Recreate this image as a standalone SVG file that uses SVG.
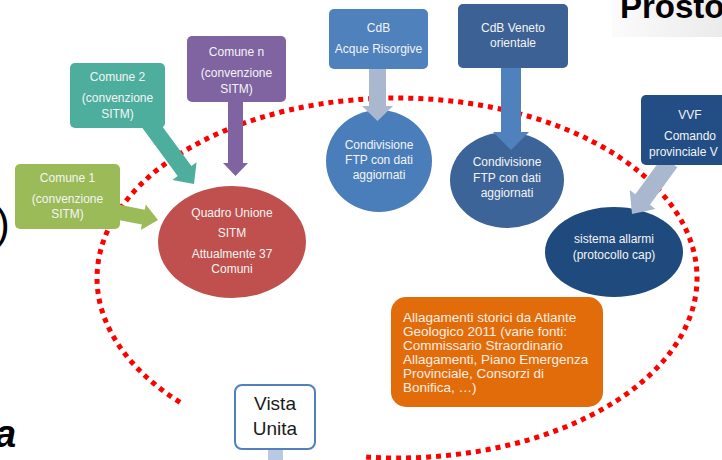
<svg xmlns="http://www.w3.org/2000/svg" width="722" height="460" viewBox="0 0 722 460">
  <defs>
    <linearGradient id="hdr" x1="0" y1="0" x2="1" y2="0">
      <stop offset="0" stop-color="#fbfbfb"/>
      <stop offset="1" stop-color="#ebebeb"/>
    </linearGradient>
  </defs>
  <style>
    .t { font-family: "Liberation Sans", Arial, sans-serif; font-size: 12px; fill: #f4f4f4; text-anchor: middle; }
    .ts { font-family: "Liberation Sans", Arial, sans-serif; font-size: 12px; fill: #f4f4f4; text-anchor: start; }
    .o { font-family: "Liberation Sans", Arial, sans-serif; font-size: 13.5px; fill: #fbeee4; }
    .v { font-family: "Liberation Sans", Arial, sans-serif; font-size: 19px; fill: #1a1a1a; text-anchor: middle; }
    .edge { font-family: "Liberation Sans", Arial, sans-serif; fill: #000; }
    .ring { fill: none; stroke: #ff0000; stroke-width: 5; stroke-dasharray: 5 5; }
  </style>
  <rect width="722" height="460" fill="#ffffff"/>

  <!-- slide fragments at the edges -->
  <rect x="612" y="0" width="110" height="37" fill="url(#hdr)"/>
  <text class="edge" x="620" y="18" font-size="33" font-weight="bold">Prosto</text>
  <text class="edge" x="-4.3" y="238" font-size="42">)</text>
  <text class="edge" x="-5" y="447" font-size="38" font-weight="bold" font-style="italic">a</text>

  <!-- dotted boundary -->
  <path class="ring" d="M180,402.3 A300,180 0 1 1 365,457"/>

  <!-- round nodes -->
  <g id="quadro-unione">
    <ellipse cx="232" cy="242" rx="74" ry="56" fill="#c0504d"/>
    <text class="t" x="232" y="217">Quadro Unione</text>
    <text class="t" x="232" y="237">SITM</text>
    <text class="t" x="232" y="258">Attualmente 37</text>
    <text class="t" x="232" y="273">Comuni</text>
  </g>
  <g id="condivisione-1">
    <ellipse cx="379" cy="161" rx="53" ry="51" fill="#4a7ebb"/>
    <text class="t" x="379" y="149">Condivisione</text>
    <text class="t" x="379" y="164">FTP con dati</text>
    <text class="t" x="379" y="179">aggiornati</text>
  </g>
  <g id="condivisione-2">
    <ellipse cx="507" cy="180" rx="57" ry="48" fill="#3d6499"/>
    <text class="t" x="507" y="166">Condivisione</text>
    <text class="t" x="507" y="182">FTP con dati</text>
    <text class="t" x="507" y="197">aggiornati</text>
  </g>
  <g id="sistema-allarmi">
    <ellipse cx="614" cy="252" rx="69" ry="45" fill="#1f4a7e"/>
    <text class="t" x="614" y="243">sistema allarmi</text>
    <text class="t" x="614" y="259">(protocollo cap)</text>
  </g>

  <!-- connectors -->
  <g id="connectors">
    <polygon fill="#9bbb59" points="113.4,203.6 144.7,209.7 145.8,204.4 158,220 140.8,229.9 141.9,224.5 110.6,218.4"/>
    <polygon fill="#4dae9e" points="153.9,115 191.4,166.1 196.6,162.2 194,184 172.4,180 177.7,176.1 140.2,125"/>
    <polygon fill="#8064a2" points="228,98 243,98 243,163 248,163 235.5,176 223,163 228,163"/>
    <polygon fill="#a9b8ce" points="369,66 386,66 386,106 393,106 377.5,121 362,106 369,106"/>
    <polygon fill="#4f81bd" points="501,64 521,64 521,132 529,132 511,150 493,132 501,132"/>
    <polygon fill="#a9b8ce" points="677.3,167.3 649.9,204.8 655.5,208.9 632,214 629.7,190.1 635.3,194.2 662.7,156.7"/>
    <rect x="268" y="447" width="15" height="13" fill="#b9c9e3"/>
  </g>

  <!-- box nodes -->
  <g id="comune-1">
    <rect x="15" y="164" width="105" height="65" rx="5" fill="#9bbb59"/>
    <text class="t" x="67.5" y="182">Comune 1</text>
    <text class="t" x="67.5" y="203">(convenzione</text>
    <text class="t" x="67.5" y="218">SITM)</text>
  </g>
  <g id="comune-2">
    <rect x="70" y="63" width="95" height="65" rx="5" fill="#4dae9e"/>
    <text class="t" x="117.5" y="81">Comune 2</text>
    <text class="t" x="117.5" y="102">(convenzione</text>
    <text class="t" x="117.5" y="118">SITM)</text>
  </g>
  <g id="comune-n">
    <rect x="187" y="36" width="99" height="66" rx="5" fill="#8064a2"/>
    <text class="t" x="236.5" y="56">Comune n</text>
    <text class="t" x="236.5" y="77">(convenzione</text>
    <text class="t" x="236.5" y="93">SITM)</text>
  </g>
  <g id="cdb-acque-risorgive">
    <rect x="329" y="9" width="99" height="60" rx="5" fill="#4f81bd"/>
    <text class="t" x="378.5" y="32">CdB</text>
    <text class="t" x="378.5" y="53">Acque Risorgive</text>
  </g>
  <g id="cdb-veneto-orientale">
    <rect x="458" y="4" width="110" height="64" rx="5" fill="#3b6195"/>
    <text class="t" x="513" y="32">CdB Veneto</text>
    <text class="t" x="513" y="47">orientale</text>
  </g>
  <g id="vvf">
    <rect x="641" y="95" width="100" height="70" rx="5" fill="#234d85"/>
    <text class="t" x="690" y="119">VVF</text>
    <text class="t" x="690" y="140">Comando</text>
    <text class="ts" x="649" y="156">provinciale V</text>
  </g>
  <g id="allagamenti-storici">
    <rect x="391" y="297" width="212" height="110" rx="15" fill="#e36c0a"/>
    <text class="o" x="403" y="322">Allagamenti storici da Atlante</text>
    <text class="o" x="403" y="336">Geologico 2011 (varie fonti:</text>
    <text class="o" x="403" y="350">Commissario Straordinario</text>
    <text class="o" x="403" y="364">Allagamenti, Piano Emergenza</text>
    <text class="o" x="403" y="378">Provinciale, Consorzi di</text>
    <text class="o" x="403" y="392">Bonifica, …)</text>
  </g>
  <g id="vista-unita">
    <rect x="235" y="385" width="80" height="64" rx="7" fill="#ffffff" stroke="#4f81bd" stroke-width="2"/>
    <text class="v" x="275" y="410">Vista</text>
    <text class="v" x="275" y="435">Unita</text>
  </g>
</svg>
